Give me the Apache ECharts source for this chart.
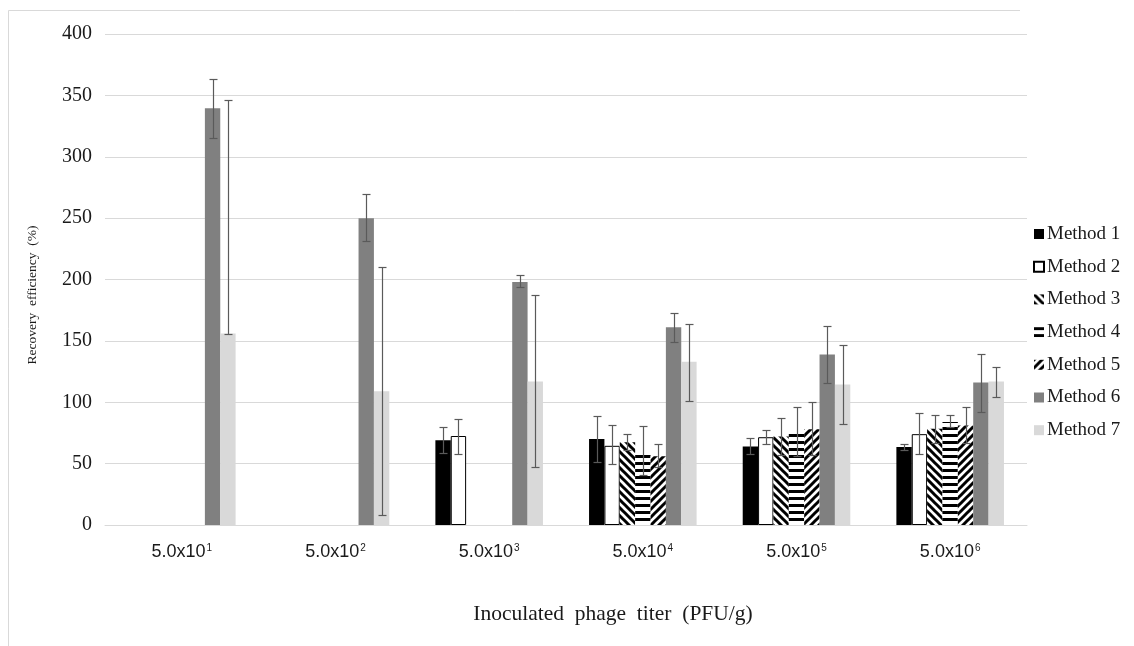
<!DOCTYPE html>
<html>
<head>
<meta charset="utf-8">
<script src="https://cdn.jsdelivr.net/npm/echarts@6/dist/echarts.min.js"></script>
<style>
html,body{margin:0;padding:0;background:#fff;}
#chart{width:1134px;height:646px;}
</style>
</head>
<body>
<div id="chart"></div>
<script>
// ---- data ----
const categories = ['5.0x10^1', '5.0x10^2', '5.0x10^3', '5.0x10^4', '5.0x10^5', '5.0x10^6'];
const methods = ['Method 1', 'Method 2', 'Method 3', 'Method 4', 'Method 5', 'Method 6', 'Method 7'];

const method1 = [null, null, 69, 70, 64, 63.5];
const method1Low = [null, null, 59, 51.5, 57.5, 61.5];
const method1High = [null, null, 79.5, 89, 70.5, 66];

const method2 = [null, null, 72.5, 64.5, 71.5, 74];
const method2Low = [null, null, 57.5, 49.5, 66, 57.5];
const method2High = [null, null, 86.5, 81.5, 77.5, 91];

const method3 = [null, null, null, 67.5, 72, 78.5];
const method3Low = [null, null, null, 61, 57, 67];
const method3High = [null, null, null, 74.5, 87.5, 89.5];

const method4 = [null, null, null, 59, 76, 84];
const method4Low = [null, null, null, 41, 56, 79.5];
const method4High = [null, null, null, 80.5, 96, 89.5];

const method5 = [null, null, null, 56, 78, 81];
const method5Low = [null, null, null, 47.5, 57, 66.5];
const method5High = [null, null, null, 66, 100, 96];

const method6 = [339.5, 250, 198, 161, 139, 116];
const method6Low = [315, 231, 194, 149, 116, 92];
const method6High = [363, 270, 204, 173, 162, 139.5];

const method7 = [156, 109, 117, 133, 114.5, 117];
const method7Low = [156, 8, 47, 101, 82.5, 104];
const method7High = [346, 210, 187, 163.5, 147, 129];

const yTicks = [0, 50, 100, 150, 200, 250, 300, 350, 400];

// ---- patterns ----
function stripe(kind) {
  const c = document.createElement('canvas');
  const ctx = c.getContext('2d');
  if (kind === 'h') {
    c.width = 8; c.height = 7;
    ctx.fillStyle = '#fff'; ctx.fillRect(0, 0, 8, 7);
    ctx.fillStyle = '#000'; ctx.fillRect(0, 0, 8, 3);
  } else {
    const s = 8;
    c.width = s; c.height = s;
    ctx.fillStyle = '#fff'; ctx.fillRect(0, 0, s, s);
    ctx.strokeStyle = '#000'; ctx.lineWidth = 3; ctx.lineCap = 'square';
    ctx.beginPath();
    [-s, 0, s].forEach(function (o) {
      if (kind === 'back') { ctx.moveTo(o, 0); ctx.lineTo(o + s, s); }
      else { ctx.moveTo(o, s); ctx.lineTo(o + s, 0); }
    });
    ctx.stroke();
  }
  return { image: c, repeat: 'repeat' };
}

const values = [method1, method2, method3, method4, method5, method6, method7];
const lows = [method1Low, method2Low, method3Low, method4Low, method5Low, method6Low, method7Low];
const highs = [method1High, method2High, method3High, method4High, method5High, method6High, method7High];

const styles = [
  { color: '#000000' },
  { color: '#ffffff', borderColor: '#000000', borderWidth: 1 },
  { color: stripe('back') },
  { color: stripe('h') },
  { color: stripe('fwd') },
  { color: '#808080' },
  { color: '#d9d9d9' }
];

const CAT_GAP = 0.3;
const N = methods.length;

const errData = [];
values.forEach(function (arr, m) {
  arr.forEach(function (v, ci) {
    if (v != null) errData.push([ci, lows[m][ci], highs[m][ci], m]);
  });
});

const serif = "'Liberation Serif', 'Times New Roman', serif";
const sans = "'Liberation Sans', Arial, sans-serif";

const series = methods.map(function (name, m) {
  return {
    name: name,
    type: 'bar',
    data: values[m],
    barGap: '0%',
    barCategoryGap: (CAT_GAP * 100) + '%',
    itemStyle: styles[m],
    emphasis: { disabled: true }
  };
});

series.push({
  type: 'custom',
  name: 'err',
  data: errData,
  encode: { x: 0, y: [1, 2] },
  z: 10,
  silent: true,
  renderItem: function (params, api) {
    const ci = api.value(0), lo = api.value(1), hi = api.value(2), m = api.value(3);
    const band = api.size([1, 0])[0];
    const bw = band * (1 - CAT_GAP) / N;
    const center = api.coord([ci, 0])[0];
    let cx = center - band * (1 - CAT_GAP) / 2 + (m + 0.5) * bw;
    cx = Math.round(cx) + 0.5;
    const yLo = Math.round(api.coord([ci, lo])[1]) + 0.5;
    const yHi = Math.round(api.coord([ci, hi])[1]) + 0.5;
    const st = { stroke: '#5a5a5a', lineWidth: 1.2 };
    const hw = 4;
    return {
      type: 'group',
      children: [
        { type: 'line', shape: { x1: cx, y1: yLo, x2: cx, y2: yHi }, style: st },
        { type: 'line', shape: { x1: cx - hw, y1: yHi, x2: cx + hw, y2: yHi }, style: st },
        { type: 'line', shape: { x1: cx - hw, y1: yLo, x2: cx + hw, y2: yLo }, style: st }
      ]
    };
  }
});

const chart = echarts.init(document.getElementById('chart'));
chart.setOption({
  animation: false,
  backgroundColor: '#ffffff',
  grid: { left: 105, right: 107, top: 34, bottom: 121, containLabel: false },
  legend: {
    data: methods,
    orient: 'vertical',
    left: 1033,
    top: 224,
    padding: 0,
    itemWidth: 10,
    itemHeight: 10,
    itemGap: 12.7,
    icon: 'rect',
    selectedMode: false,
    textStyle: { fontFamily: serif, fontSize: 19, color: '#1a1a1a', lineHeight: 20, padding: [0, 0, 0, -2] }
  },
  xAxis: {
    type: 'category',
    data: categories,
    axisLine: { show: true, lineStyle: { color: '#d9d9d9', width: 1 } },
    axisTick: { show: false },
    axisLabel: {
      margin: 18,
      interval: 0,
      formatter: function (v) {
        const p = v.split('^');
        return '{b|' + p[0] + '}{sup|' + p[1] + '}';
      },
      rich: {
        b: { fontFamily: sans, fontSize: 18, color: '#1a1a1a' },
        sup: { fontFamily: sans, fontSize: 10, color: '#1a1a1a', verticalAlign: 'top', padding: [0, 0, 9, 1] }
      }
    }
  },
  yAxis: {
    type: 'value',
    min: yTicks[0],
    max: yTicks[yTicks.length - 1],
    interval: yTicks[1] - yTicks[0],
    axisLine: { show: false },
    axisTick: { show: false },
    splitLine: { lineStyle: { color: '#d9d9d9', width: 1 } },
    axisLabel: { fontFamily: serif, fontSize: 20, color: '#1a1a1a', margin: 13 }
  },
  graphic: [
    { type: 'line', z: -1, shape: { x1: 8.5, y1: 10.5, x2: 1020, y2: 10.5 }, style: { stroke: '#d9d9d9', lineWidth: 1 } },
    { type: 'line', z: -1, shape: { x1: 8.5, y1: 10.5, x2: 8.5, y2: 646 }, style: { stroke: '#d9d9d9', lineWidth: 1 } },
    {
      type: 'text', x: 32, y: 295, rotation: Math.PI / 2,
      style: { text: 'Recovery  efficiency  (%)', fontFamily: serif, fontSize: 13.5, fill: '#1a1a1a', align: 'center', verticalAlign: 'middle' }
    },
    {
      type: 'text', x: 613, y: 614,
      style: { text: 'Inoculated  phage  titer  (PFU/g)', fontFamily: serif, fontSize: 21.5, fill: '#1a1a1a', align: 'center', verticalAlign: 'middle' }
    }
  ],
  series: series
});
</script>
</body>
</html>
